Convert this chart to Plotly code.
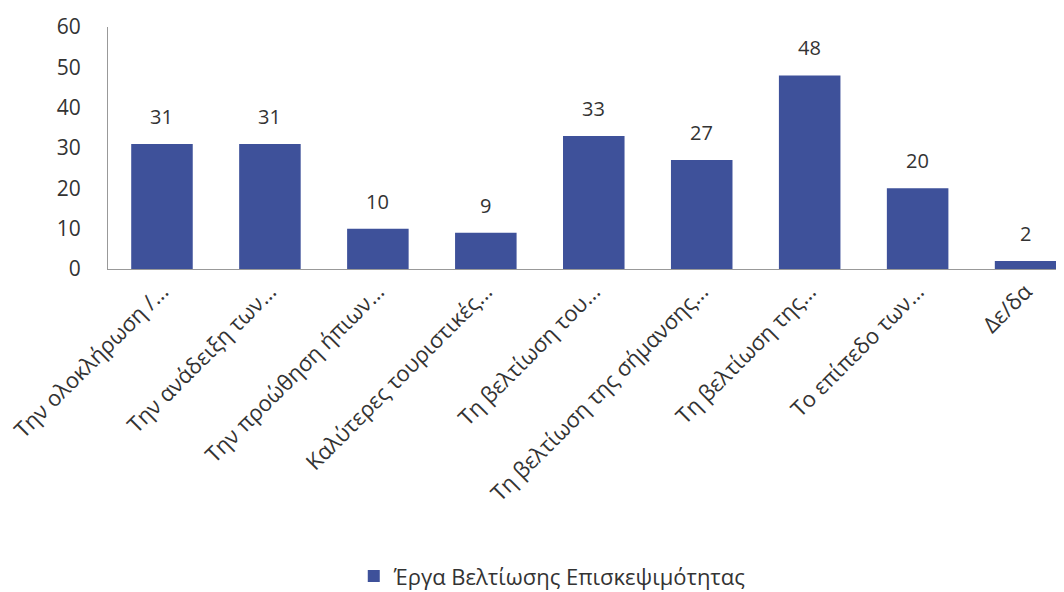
import plotly.graph_objects as go

categories = [
    "Την ολοκλήρωση /...",
    "Την ανάδειξη των...",
    "Την προώθηση ήπιων...",
    "Καλύτερες τουριστικές...",
    "Τη βελτίωση του...",
    "Τη βελτίωση της σήμανσης...",
    "Τη βελτίωση της...",
    "Το επίπεδο των...",
    "Δε/δα",
]
values = [31, 31, 10, 9, 33, 27, 48, 20, 2]
series_name = "Έργα Βελτίωσης Επισκεψιμότητας"

bar_color = "#3e519a"
text_color = "#333333"
font_family = "Open Sans, Noto Sans, DejaVu Sans"

fig = go.Figure()
fig.add_trace(go.Bar(
    x=categories,
    y=values,
    name=series_name,
    marker=dict(color=bar_color, line=dict(width=0)),
    cliponaxis=False,
    showlegend=True,
))

# value labels above each bar
for cat, val in zip(categories, values):
    fig.add_annotation(
        x=cat, y=val, text=str(val),
        showarrow=False, yanchor="bottom", yshift=12,
        font=dict(size=20, color=text_color, family=font_family),
    )

# page body has an 8px margin, so the margins below are shifted by that
fig.update_layout(
    width=1064,
    height=592,
    margin=dict(l=100, r=0, t=19, b=331, autoexpand=False),
    paper_bgcolor="white",
    plot_bgcolor="white",
    bargap=0.43,
    font=dict(family=font_family, color=text_color),
    legend=dict(
        orientation="h",
        x=0.512, xanchor="center", xref="container",
        y=0.04, yanchor="middle", yref="container",
        font=dict(size=22, color=text_color),
        itemwidth=30,
    ),
)
fig.update_xaxes(
    range=[-0.5, 8.43],
    tickangle=-45,
    tickfont=dict(size=22, color=text_color),
    showline=True, linecolor="#999999", linewidth=1,
    ticks="", showgrid=False, automargin=False,
)
fig.update_yaxes(
    range=[0, 60],
    dtick=10,
    tickfont=dict(size=21, color=text_color),
    showline=True, linecolor="#999999", linewidth=1,
    ticks="", showgrid=False, zeroline=False,
    ticklabelstandoff=22, automargin=False,
)

fig.write_html("out.html")
